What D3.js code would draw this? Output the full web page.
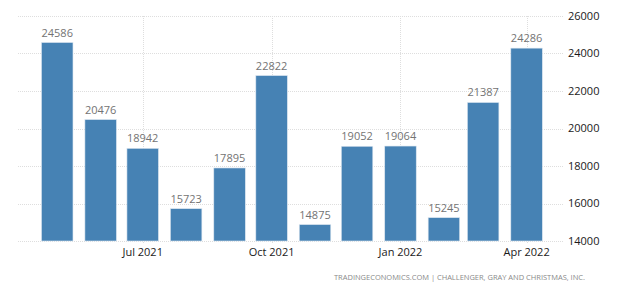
<!DOCTYPE html>
<html>
<head>
<meta charset="utf-8">
<script src="https://cdn.jsdelivr.net/npm/d3@7"></script>
<style>
  body { margin: 0; background: #fff; }
  text { font-family: "Open Sans", "Liberation Sans", sans-serif; }
</style>
</head>
<body>
<div id="chart"></div>
<script>
// monthly job cuts, May 2021 - Apr 2022
var months = ["2021-05", "2021-06", "2021-07", "2021-08", "2021-09", "2021-10",
              "2021-11", "2021-12", "2022-01", "2022-02", "2022-03", "2022-04"];
var values = [24586, 20476, 18942, 15723, 17895, 22822,
              14875, 19052, 19064, 15245, 21387, 24286];
var xTicks = ["2021-07", "2021-10", "2022-01", "2022-04"];
var yTicks = [14000, 16000, 18000, 20000, 22000, 24000, 26000];

var width = 624, height = 290;
// plot box (note: "top" is a reserved window prop, so prefix these)
var plotLeft = 18, plotRight = 563, plotTop = 16, plotBottom = 241;

var parse = d3.timeParse("%Y-%m");
var data = months.map(function(m, i) { return {date: parse(m), value: values[i]}; });

var svg = d3.select("#chart").append("svg")
    .attr("width", width)
    .attr("height", height);

var x = d3.scaleTime()
    .domain([d3.timeDay.offset(parse("2021-05"), -28), d3.timeDay.offset(parse("2022-04"), 26)])
    .range([plotLeft, plotRight]);

var y = d3.scaleLinear()
    .domain([14000, 26000])
    .range([plotBottom, plotTop]);

var barW = 31.5;

// gridlines
svg.append("g").selectAll("line")
    .data(yTicks)
    .enter().append("line")
    .attr("x1", plotLeft).attr("x2", plotRight)
    .attr("y1", function(d) { return Math.round(y(d)) + 0.5; })
    .attr("y2", function(d) { return Math.round(y(d)) + 0.5; })
    .attr("stroke", "#dedede")
    .attr("stroke-dasharray", "1,1");

svg.append("g").selectAll("line")
    .data(xTicks.map(parse))
    .enter().append("line")
    .attr("x1", function(d) { return Math.round(x(d)) + 0.5; })
    .attr("x2", function(d) { return Math.round(x(d)) + 0.5; })
    .attr("y1", plotTop).attr("y2", plotBottom + 3)
    .attr("stroke", "#dedede")
    .attr("stroke-dasharray", "1,1");

// bars
svg.append("g").selectAll("rect")
    .data(data)
    .enter().append("rect")
    .attr("x", function(d) { return x(d.date) - barW / 2; })
    .attr("y", function(d) { return y(d.value); })
    .attr("width", barW)
    .attr("height", function(d) { return plotBottom - y(d.value); })
    .attr("fill", "#4682b4")
    .attr("stroke", "#dce6f0")
    .attr("stroke-width", 0.6);

// value labels
svg.append("g").selectAll("text")
    .data(data)
    .enter().append("text")
    .attr("x", function(d) { return x(d.date); })
    .attr("y", function(d) { return y(d.value) - 6; })
    .attr("text-anchor", "middle")
    .attr("font-size", "11px")
    .attr("fill", "#737373")
    .text(function(d) { return d.value; });

// x axis labels
var fmt = d3.timeFormat("%b %Y");
svg.append("g").selectAll("text")
    .data(xTicks.map(parse))
    .enter().append("text")
    .attr("x", function(d) { return x(d); })
    .attr("y", 256)
    .attr("text-anchor", "middle")
    .attr("font-size", "11px")
    .attr("fill", "#1a1a1a")
    .text(function(d) { return fmt(d); });

// y axis labels on the right
svg.append("g").selectAll("text")
    .data(yTicks)
    .enter().append("text")
    .attr("x", 568)
    .attr("y", function(d) { return y(d); })
    .attr("dy", "0.35em")
    .attr("font-size", "11px")
    .attr("fill", "#1a1a1a")
    .text(function(d) { return d; });

// source line
svg.append("text")
    .attr("x", 585)
    .attr("y", 279.5)
    .attr("text-anchor", "end")
    .attr("font-size", "7.5px")
    .attr("fill", "#8a8a8a")
    .attr("textLength", 251)
    .attr("lengthAdjust", "spacing")
    .text("TRADINGECONOMICS.COM  |  CHALLENGER, GRAY AND CHRISTMAS, INC.");
</script>
</body>
</html>
